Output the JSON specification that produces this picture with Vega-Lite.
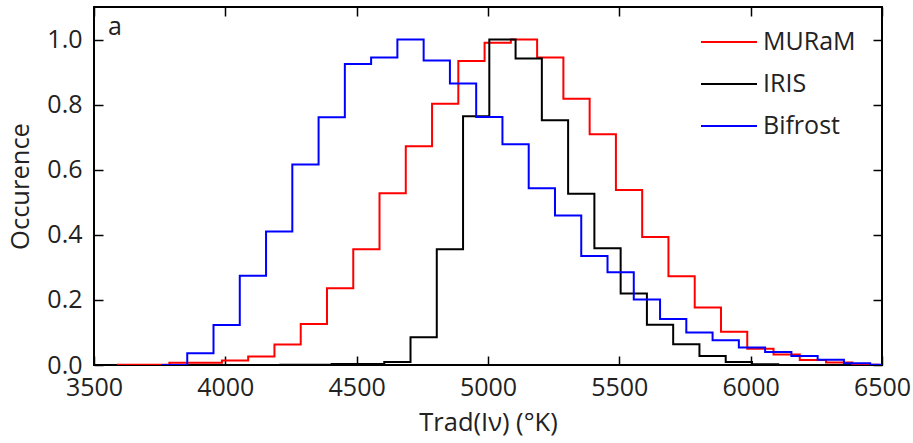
{
  "$schema": "https://vega.github.io/schema/vega-lite/v6.json",
  "width": 788,
  "height": 358,
  "autosize": {"type": "none"},
  "padding": {"left": 94, "top": 7, "right": 31, "bottom": 78},
  "background": "white",
  "config": {
    "view": {"stroke": "black", "strokeWidth": 2},
    "font": "Open Sans",
    "axis": {
      "domain": false,
      "grid": false,
      "tickColor": "black",
      "tickWidth": 1.5,
      "tickSize": -9,
      "labelColor": "#222222",
      "titleColor": "#222222",
      "labelFont": "Open Sans",
      "titleFont": "Open Sans",
      "labelFontSize": 25,
      "titleFontSize": 25.5,
      "titleFontWeight": "normal"
    }
  },
  "data": {
    "values": [
      {"series": "MURaM", "x": 3587, "y": 0.001},
      {"series": "MURaM", "x": 3687, "y": 0.001},
      {"series": "MURaM", "x": 3787, "y": 0.007},
      {"series": "MURaM", "x": 3887, "y": 0.007},
      {"series": "MURaM", "x": 3987, "y": 0.014},
      {"series": "MURaM", "x": 4087, "y": 0.026},
      {"series": "MURaM", "x": 4187, "y": 0.063},
      {"series": "MURaM", "x": 4287, "y": 0.126},
      {"series": "MURaM", "x": 4387, "y": 0.236},
      {"series": "MURaM", "x": 4487, "y": 0.356},
      {"series": "MURaM", "x": 4587, "y": 0.528},
      {"series": "MURaM", "x": 4687, "y": 0.672},
      {"series": "MURaM", "x": 4787, "y": 0.803},
      {"series": "MURaM", "x": 4887, "y": 0.934},
      {"series": "MURaM", "x": 4987, "y": 0.99},
      {"series": "MURaM", "x": 5087, "y": 1.0},
      {"series": "MURaM", "x": 5187, "y": 0.945},
      {"series": "MURaM", "x": 5287, "y": 0.818},
      {"series": "MURaM", "x": 5387, "y": 0.709},
      {"series": "MURaM", "x": 5487, "y": 0.538},
      {"series": "MURaM", "x": 5587, "y": 0.393},
      {"series": "MURaM", "x": 5687, "y": 0.273},
      {"series": "MURaM", "x": 5787, "y": 0.177},
      {"series": "MURaM", "x": 5887, "y": 0.102},
      {"series": "MURaM", "x": 5987, "y": 0.05},
      {"series": "MURaM", "x": 6087, "y": 0.032},
      {"series": "MURaM", "x": 6187, "y": 0.015},
      {"series": "MURaM", "x": 6287, "y": 0.008},
      {"series": "MURaM", "x": 6387, "y": 0.001},
      {"series": "MURaM", "x": 6487, "y": 0.0},
      {"series": "IRIS", "x": 4205, "y": 0.001},
      {"series": "IRIS", "x": 4305, "y": 0.001},
      {"series": "IRIS", "x": 4405, "y": 0.003},
      {"series": "IRIS", "x": 4505, "y": 0.003},
      {"series": "IRIS", "x": 4605, "y": 0.009},
      {"series": "IRIS", "x": 4705, "y": 0.085},
      {"series": "IRIS", "x": 4805, "y": 0.356},
      {"series": "IRIS", "x": 4905, "y": 0.764},
      {"series": "IRIS", "x": 5005, "y": 1.0},
      {"series": "IRIS", "x": 5105, "y": 0.942},
      {"series": "IRIS", "x": 5205, "y": 0.752},
      {"series": "IRIS", "x": 5305, "y": 0.526},
      {"series": "IRIS", "x": 5405, "y": 0.359},
      {"series": "IRIS", "x": 5505, "y": 0.22},
      {"series": "IRIS", "x": 5605, "y": 0.124},
      {"series": "IRIS", "x": 5705, "y": 0.064},
      {"series": "IRIS", "x": 5805, "y": 0.028},
      {"series": "IRIS", "x": 5905, "y": 0.009},
      {"series": "IRIS", "x": 6005, "y": 0.002},
      {"series": "IRIS", "x": 6105, "y": 0.0},
      {"series": "Bifrost", "x": 3755, "y": 0.0},
      {"series": "Bifrost", "x": 3855, "y": 0.036},
      {"series": "Bifrost", "x": 3955, "y": 0.123},
      {"series": "Bifrost", "x": 4055, "y": 0.274},
      {"series": "Bifrost", "x": 4155, "y": 0.41},
      {"series": "Bifrost", "x": 4255, "y": 0.616},
      {"series": "Bifrost", "x": 4355, "y": 0.761},
      {"series": "Bifrost", "x": 4455, "y": 0.925},
      {"series": "Bifrost", "x": 4555, "y": 0.945},
      {"series": "Bifrost", "x": 4655, "y": 1.0},
      {"series": "Bifrost", "x": 4755, "y": 0.936},
      {"series": "Bifrost", "x": 4855, "y": 0.865},
      {"series": "Bifrost", "x": 4955, "y": 0.762},
      {"series": "Bifrost", "x": 5055, "y": 0.678},
      {"series": "Bifrost", "x": 5155, "y": 0.543},
      {"series": "Bifrost", "x": 5255, "y": 0.459},
      {"series": "Bifrost", "x": 5355, "y": 0.335},
      {"series": "Bifrost", "x": 5455, "y": 0.285},
      {"series": "Bifrost", "x": 5555, "y": 0.201},
      {"series": "Bifrost", "x": 5655, "y": 0.141},
      {"series": "Bifrost", "x": 5755, "y": 0.1},
      {"series": "Bifrost", "x": 5855, "y": 0.076},
      {"series": "Bifrost", "x": 5955, "y": 0.054},
      {"series": "Bifrost", "x": 6055, "y": 0.04},
      {"series": "Bifrost", "x": 6155, "y": 0.028},
      {"series": "Bifrost", "x": 6255, "y": 0.016},
      {"series": "Bifrost", "x": 6355, "y": 0.005},
      {"series": "Bifrost", "x": 6455, "y": 0.001},
      {"series": "Bifrost", "x": 6555, "y": 0.001}
    ]
  },
  "layer": [
    {
      "mark": {"type": "line", "interpolate": "step-after", "strokeWidth": 2, "clip": true},
      "encoding": {
        "x": {
          "field": "x", "type": "quantitative",
          "scale": {"domain": [3500, 6500], "nice": false, "zero": false},
          "axis": {"orient": "bottom", "values": [3500, 4000, 4500, 5000, 5500, 6000, 6500], "format": "d", "labelPadding": 19, "labelOverlap": false, "labelFlush": false, "title": "Trad(Iν) (°K)", "titlePadding": 10}
        },
        "y": {
          "field": "y", "type": "quantitative",
          "scale": {"domain": [0, 1.1], "nice": false},
          "axis": {"orient": "left", "values": [0, 0.2, 0.4, 0.6, 0.8, 1.0], "format": ".1f", "labelPadding": 21, "labelOverlap": false, "labelFlush": false, "title": "Occurence", "titlePadding": 13}
        },
        "color": {
          "field": "series", "type": "nominal",
          "scale": {"domain": ["MURaM", "IRIS", "Bifrost"], "range": ["#ff0000", "#000000", "#0000ff"]},
          "legend": {
            "orient": "none", "legendX": 606, "legendY": 6, "title": null,
            "symbolType": "stroke", "symbolSize": 3136, "symbolStrokeWidth": 2,
            "labelFontSize": 25, "labelFont": "Open Sans", "labelColor": "#222222",
            "labelOffset": 5, "rowPadding": -17.5, "padding": 0
          }
        }
      }
    },
    {
      "data": {"values": [{"label": "a"}]},
      "mark": {"type": "text", "align": "left", "baseline": "alphabetic", "fontSize": 25, "font": "Open Sans", "color": "#222222"},
      "encoding": {
        "x": {"datum": 3553, "type": "quantitative", "axis": {"orient": "top", "values": [3500, 4000, 4500, 5000, 5500, 6000, 6500], "labels": false, "title": null}},
        "y": {"datum": 1.014, "type": "quantitative", "axis": {"orient": "right", "values": [0, 0.2, 0.4, 0.6, 0.8, 1.0], "labels": false, "title": null}},
        "text": {"field": "label"}
      }
    }
  ],
  "resolve": {"axis": {"x": "independent", "y": "independent"}}
}
